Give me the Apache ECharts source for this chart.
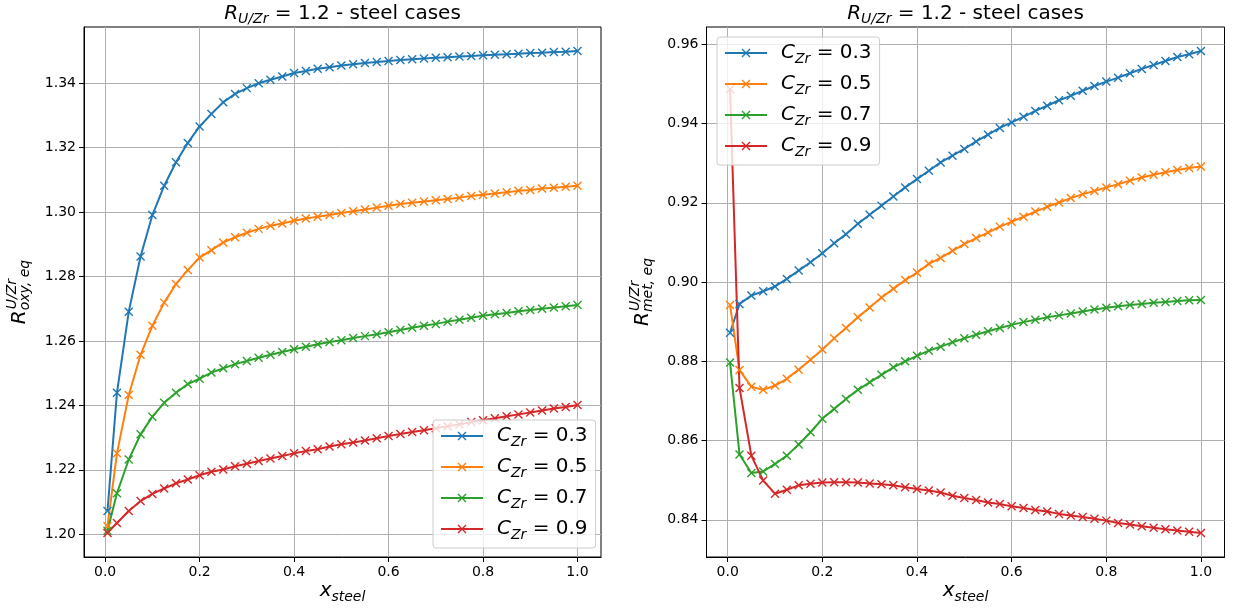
<!DOCTYPE html>
<html lang="en">
<head>
<meta charset="UTF-8">
<title>R_U/Zr = 1.2 - steel cases</title>
<script src="https://cdn.jsdelivr.net/npm/echarts@6/dist/echarts.min.js"></script>
<style>
    html, body {margin: 0; padding: 0; background: #fff;}
    #main {width: 1234px; height: 613px;}
</style>
</head>
<body>
<div id="main"></div>
<script>
// x_steel sample points (same for every curve)
var xSteel = [0.005, 0.025, 0.05, 0.075, 0.1, 0.125, 0.15, 0.175, 0.2, 0.225,
    0.25, 0.275, 0.3, 0.325, 0.35, 0.375, 0.4, 0.425, 0.45, 0.475,
    0.5, 0.525, 0.55, 0.575, 0.6, 0.625, 0.65, 0.675, 0.7, 0.725,
    0.75, 0.775, 0.8, 0.825, 0.85, 0.875, 0.9, 0.925, 0.95, 0.975, 1.0];

var cZr = ['0.3', '0.5', '0.7', '0.9'];

// left panel: R oxy,eq
var oxy03 = [1.2072, 1.2439, 1.2691, 1.2862, 1.2991, 1.3082, 1.3155, 1.3215, 1.3266, 1.3305,
    1.3341, 1.3367, 1.3385, 1.3400, 1.3411, 1.3421, 1.3432, 1.3438, 1.3445, 1.3450,
    1.3455, 1.3459, 1.3463, 1.3466, 1.3469, 1.3472, 1.3475, 1.3477, 1.3479, 1.3481,
    1.3483, 1.3485, 1.3487, 1.3489, 1.3490, 1.3492, 1.3494, 1.3495, 1.3497, 1.3498, 1.3500];
var oxy05 = [1.2025, 1.2251, 1.2432, 1.2557, 1.2647, 1.2719, 1.2777, 1.2820, 1.2859, 1.2882,
    1.2906, 1.2922, 1.2936, 1.2948, 1.2958, 1.2965, 1.2973, 1.2980, 1.2986, 1.2991,
    1.2997, 1.3003, 1.3008, 1.3014, 1.3020, 1.3025, 1.3029, 1.3033, 1.3037, 1.3041,
    1.3045, 1.3050, 1.3054, 1.3058, 1.3062, 1.3066, 1.3069, 1.3073, 1.3076, 1.3079, 1.3082];
var oxy07 = [1.2011, 1.2127, 1.2232, 1.2310, 1.2365, 1.2408, 1.2439, 1.2466, 1.2483, 1.2502,
    1.2515, 1.2528, 1.2538, 1.2548, 1.2557, 1.2566, 1.2574, 1.2582, 1.2590, 1.2597,
    1.2602, 1.2609, 1.2615, 1.2621, 1.2627, 1.2634, 1.2641, 1.2647, 1.2653, 1.2660,
    1.2666, 1.2672, 1.2678, 1.2683, 1.2687, 1.2692, 1.2696, 1.2700, 1.2704, 1.2708, 1.2712];
var oxy09 = [1.2004, 1.2035, 1.2072, 1.2103, 1.2125, 1.2142, 1.2158, 1.2170, 1.2183, 1.2194,
    1.2201, 1.2211, 1.2219, 1.2227, 1.2235, 1.2243, 1.2251, 1.2258, 1.2264, 1.2272,
    1.2279, 1.2285, 1.2291, 1.2298, 1.2305, 1.2311, 1.2317, 1.2323, 1.2329, 1.2335,
    1.2341, 1.2348, 1.2354, 1.2360, 1.2366, 1.2372, 1.2378, 1.2384, 1.2390, 1.2395, 1.2401];

// right panel: R met,eq
var met03 = [0.8872, 0.8945, 0.8966, 0.8977, 0.8989, 0.9008, 0.9029, 0.9050, 0.9073, 0.9098,
    0.9121, 0.9147, 0.9170, 0.9193, 0.9216, 0.9239, 0.9260, 0.9281, 0.9302, 0.9319,
    0.9336, 0.9355, 0.9372, 0.9389, 0.9403, 0.9417, 0.9432, 0.9445, 0.9459, 0.9470,
    0.9483, 0.9495, 0.9506, 0.9516, 0.9527, 0.9538, 0.9548, 0.9558, 0.9568, 0.9575, 0.9583];
var met05 = [0.8942, 0.8778, 0.8736, 0.8728, 0.8739, 0.8756, 0.8779, 0.8804, 0.8830, 0.8858,
    0.8884, 0.8911, 0.8936, 0.8961, 0.8983, 0.9005, 0.9024, 0.9046, 0.9061, 0.9079,
    0.9096, 0.9111, 0.9125, 0.9140, 0.9152, 0.9165, 0.9178, 0.9190, 0.9201, 0.9212,
    0.9222, 0.9230, 0.9239, 0.9247, 0.9256, 0.9264, 0.9271, 0.9277, 0.9283, 0.9288, 0.9292];
var met07 = [0.8797, 0.8565, 0.8518, 0.8522, 0.8541, 0.8562, 0.8590, 0.8621, 0.8655, 0.8680,
    0.8705, 0.8728, 0.8747, 0.8766, 0.8785, 0.8800, 0.8814, 0.8827, 0.8837, 0.8848,
    0.8858, 0.8867, 0.8876, 0.8884, 0.8892, 0.8899, 0.8905, 0.8911, 0.8916, 0.8921,
    0.8926, 0.8931, 0.8935, 0.8939, 0.8942, 0.8945, 0.8948, 0.8950, 0.8952, 0.8954, 0.8955];
var met09 = [0.9487, 0.8733, 0.8562, 0.8499, 0.8466, 0.8476, 0.8487, 0.8491, 0.8494, 0.8495,
    0.8495, 0.8494, 0.8492, 0.8490, 0.8487, 0.8482, 0.8478, 0.8474, 0.8469, 0.8461,
    0.8455, 0.8450, 0.8444, 0.8440, 0.8434, 0.8430, 0.8425, 0.8421, 0.8415, 0.8411,
    0.8407, 0.8403, 0.8398, 0.8392, 0.8388, 0.8384, 0.8380, 0.8376, 0.8373, 0.8370, 0.8367];

// tick labels
var xTicks = [0, 0.2, 0.4, 0.6, 0.8, 1.0];
var oxyTicks = [1.20, 1.22, 1.24, 1.26, 1.28, 1.30, 1.32, 1.34];
var metTicks = [0.84, 0.86, 0.88, 0.90, 0.92, 0.94, 0.96];

var colors = ['#1f77b4', '#ff7f0e', '#2ca02c', '#d62728'];
var FONT = 'DejaVu Sans';

// matplotlib style 5% margins
function padded(arrs) {
    var all = [].concat.apply([], arrs);
    var lo = Math.min.apply(null, all), hi = Math.max.apply(null, all);
    var m = (hi - lo) * 0.05;
    return [lo - m, hi + m];
}

var panels = [
    {left: 84, top: 27, width: 517, height: 530, ys: [oxy03, oxy05, oxy07, oxy09], ticks: oxyTicks, sub: 'oxy, eq', legend: {left: 433, top: 420}},
    {left: 706.5, top: 27, width: 518, height: 530, ys: [met03, met05, met07, met09], ticks: metTicks, sub: 'met, eq', legend: {left: 717, top: 37}}
];

// small helper for mathtext-like labels
var meas = document.createElement('canvas').getContext('2d');
function fontOf(p) { return (p.it ? 'italic ' : '') + p.fs + 'px "' + FONT + '"'; }
function mathGroup(pieces) {
    var cx = 0, lastX = 0, kids = [];
    pieces.forEach(function (p) {
        meas.font = fontOf(p);
        var w = meas.measureText(p.t).width;
        var x0 = p.stack ? lastX : cx;
        var x = x0 + (p.kern || 0);
        kids.push({
            type: 'text', x: x, y: (p.dy || 0) - 0.3 * p.fs, silent: true,
            style: {text: p.t, font: fontOf(p), fill: '#000', align: 'left', verticalAlign: 'middle'}
        });
        lastX = x0;
        cx = Math.max(cx, x + w);
    });
    return {children: kids, width: cx};
}

var xExt = padded([xSteel]);
var grids = [], xAxes = [], yAxes = [], series = [], legends = [], graphics = [];

panels.forEach(function (pn, i) {
    var yExt = padded(pn.ys);
    grids.push({left: pn.left, top: pn.top, width: pn.width, height: pn.height,
        show: true, borderColor: '#000', borderWidth: 1, backgroundColor: 'transparent'});
    xAxes.push({
        type: 'value', gridIndex: i, min: xExt[0], max: xExt[1],
        axisLine: {show: true, onZero: false, lineStyle: {color: '#000', width: 1}},
        axisTick: {show: true, length: 5, customValues: xTicks, lineStyle: {color: '#000', width: 1}},
        axisLabel: {customValues: xTicks, color: '#000', fontSize: 14, fontFamily: FONT, margin: 8,
            formatter: function (v) { return v.toFixed(1); }},
        splitLine: {show: true, lineStyle: {color: '#b0b0b0', width: 1}}
    });
    yAxes.push({
        type: 'value', gridIndex: i, min: yExt[0], max: yExt[1],
        axisLine: {show: true, onZero: false, lineStyle: {color: '#000', width: 1}},
        axisTick: {show: true, length: 5, customValues: pn.ticks, lineStyle: {color: '#000', width: 1}},
        axisLabel: {customValues: pn.ticks, color: '#000', fontSize: 14, fontFamily: FONT, margin: 8,
            formatter: function (v) { return v.toFixed(2); }},
        splitLine: {show: true, lineStyle: {color: '#b0b0b0', width: 1}}
    });
    pn.ys.forEach(function (vals, k) {
        series.push({
            type: 'line', name: 'C_Zr = ' + cZr[k], xAxisIndex: i, yAxisIndex: i,
            data: xSteel.map(function (x, j) { return [x, vals[j]]; }),
            symbol: 'path://M0,0L10,10M0,10L10,0', symbolSize: 8, showSymbol: true,
            lineStyle: {color: colors[k], width: 2},
            itemStyle: {color: colors[k], borderColor: colors[k], borderWidth: 1.4},
            emphasis: {disabled: true}, animation: false
        });
    });
    legends.push({
        orient: 'vertical', left: pn.legend.left, top: pn.legend.top,
        data: cZr.map(function (c) { return 'C_Zr = ' + c; }),
        selectedMode: false, itemWidth: 42, itemHeight: 10, itemGap: 8,
        padding: [6, 8, 6, 7],
        backgroundColor: 'rgba(255,255,255,0.8)', borderColor: '#cccccc', borderWidth: 1, borderRadius: 3,
        itemStyle: {borderWidth: 1.4},
        lineStyle: {width: 2},
        formatter: function (name) { return '{c|C}{z|Zr}{n| = ' + name.split('= ')[1] + '}'; },
        textStyle: {
            fontFamily: FONT, color: '#000',
            rich: {
                c: {fontSize: 20, fontStyle: 'italic', fontFamily: FONT, lineHeight: 26, padding: [0, 0, 0, 9]},
                z: {fontSize: 14, fontStyle: 'italic', fontFamily: FONT, lineHeight: 14, verticalAlign: 'bottom'},
                n: {fontSize: 20, fontFamily: FONT, lineHeight: 26}
            }
        }
    });

    var cx = pn.left + pn.width / 2, cy = pn.top + pn.height / 2;
    // title
    var t = mathGroup([
        {t: 'R', it: true, fs: 20},
        {t: 'U/Zr', it: true, fs: 14, dy: 4},
        {t: ' = 1.2 - steel cases', fs: 20}
    ]);
    graphics.push({type: 'group', x: cx - t.width / 2, y: 20, children: t.children});
    // x label
    var xl = mathGroup([
        {t: 'x', it: true, fs: 20},
        {t: 'steel', it: true, fs: 14, dy: 5}
    ]);
    graphics.push({type: 'group', x: cx - xl.width / 2, y: 597, children: xl.children});
    // y label (rotated)
    var yl = mathGroup([
        {t: 'R', it: true, fs: 20},
        {t: 'U/Zr', it: true, fs: 14, dy: -9, kern: 1},
        {t: pn.sub, it: true, fs: 14, dy: 4, stack: true}
    ]);
    graphics.push({type: 'group', x: pn.left - 58, y: cy + yl.width / 2, rotation: Math.PI / 2, children: yl.children});
});

var myChart = echarts.init(document.getElementById('main'), null, {renderer: 'canvas'});
myChart.setOption({
    animation: false,
    textStyle: {fontFamily: FONT},
    grid: grids,
    xAxis: xAxes,
    yAxis: yAxes,
    legend: legends,
    graphic: {elements: graphics},
    series: series
});
</script>
</body>
</html>
